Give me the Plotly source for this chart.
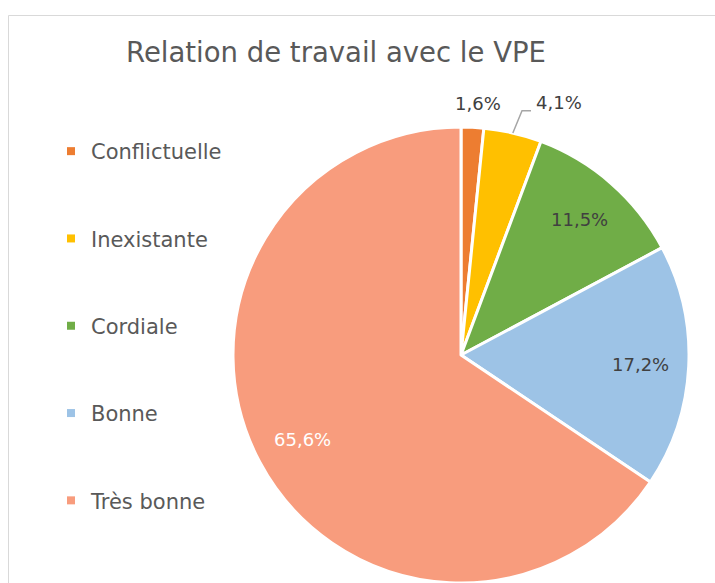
import math
import plotly.graph_objects as go

categories = ["Conflictuelle", "Inexistante", "Cordiale", "Bonne", "Très bonne"]
values = [1.6, 4.1, 11.5, 17.2, 65.6]
colors = ["#ED7D31", "#FFC000", "#70AD47", "#9DC3E6", "#F89C7D"]
label_colors = ["#404040", "#404040", "#404040", "#404040", "#FFFFFF"]
label_outside = [True, True, False, False, False]
label_leader = [False, True, False, False, False]
title_text = "Relation de travail avec le VPE"

W, H = 715, 583
FONT = "DejaVu Sans"
CX, CY, R = 461, 355, 228  # pie centre / radius in pixels

labels_txt = [f"{v:.1f}".replace(".", ",") + "%" for v in values]


def px(x):
    return x / W


def py(y):
    return 1 - y / H


fig = go.Figure()
fig.add_trace(go.Pie(
    labels=categories,
    values=values,
    sort=False,
    direction="clockwise",
    rotation=0,
    marker=dict(colors=colors, line=dict(color="white", width=3)),
    textinfo="none",
    showlegend=False,
    domain=dict(x=[px(CX - R), px(CX + R)], y=[py(CY + R), py(CY - R)]),
    hoverinfo="label+percent",
))

# legend entries via empty scatter traces, one group each for spacing
for c, col in zip(categories, colors):
    fig.add_trace(go.Scatter(
        x=[None], y=[None], mode="markers", name=c,
        marker=dict(symbol="square", size=8, color=col),
        legendgroup=c, showlegend=True,
    ))

# data labels placed along each slice's mid-angle
annotations = []
shapes = [dict(type="rect", xref="paper", yref="paper",
               x0=px(8.5), x1=1.2, y0=-0.2, y1=py(15.5),
               line=dict(color="#D9D9D9", width=1), layer="below")]
total = sum(values)
cum = 0.0
for v, t, lc, out, lead in zip(values, labels_txt, label_colors, label_outside, label_leader):
    mid = (cum + v / 2) / total * 2 * math.pi
    cum += v
    sx, sy = math.sin(mid), -math.cos(mid)
    if not out:
        rr = 0.79 * R
        annotations.append(dict(x=px(CX + rr * sx), y=py(CY + rr * sy), xref="paper", yref="paper",
                                text=t, showarrow=False, xanchor="center", yanchor="middle",
                                font=dict(size=18, color=lc, family=FONT)))
    elif not lead:
        rr = 1.105 * R
        annotations.append(dict(x=px(CX + rr * sx + 4), y=py(CY + rr * sy), xref="paper", yref="paper",
                                text=t, showarrow=False, xanchor="center", yanchor="middle",
                                font=dict(size=18, color=lc, family=FONT)))
    else:
        x0, y0 = CX + R * sx, CY + R * sy
        rr = 1.10 * R
        x1, y1 = CX + rr * sx + 4, CY + rr * sy
        x2, y2 = x1 + 9, y1
        shapes.append(dict(type="path", xref="paper", yref="paper",
                           path=f"M {px(x0)} {py(y0)} L {px(x1)} {py(y1)} L {px(x2)} {py(y2)}",
                           line=dict(color="#A6A6A6", width=1.5)))
        annotations.append(dict(x=px(x2 + 3), y=py(y2 - 8), xref="paper", yref="paper",
                                text=t, showarrow=False, xanchor="left", yanchor="middle",
                                font=dict(size=18, color=lc, family=FONT)))

fig.update_layout(
    width=W, height=H,
    margin=dict(l=0, r=0, t=0, b=0),
    paper_bgcolor="white", plot_bgcolor="white",
    font=dict(family=FONT, color="#595959"),
    title=dict(text=title_text, x=px(336), xanchor="center", y=py(52), yanchor="middle",
               font=dict(size=27.5, color="#595959", family=FONT)),
    xaxis=dict(visible=False), yaxis=dict(visible=False),
    legend=dict(x=px(51), xanchor="left", y=py(131), yanchor="top",
                font=dict(size=21, color="#595959", family=FONT),
                tracegroupgap=57, itemwidth=30, bgcolor="rgba(0,0,0,0)"),
    shapes=shapes,
    annotations=annotations,
)

fig.write_html("out.html", config={"displayModeBar": False},
               post_script="document.body.style.margin='0';document.body.style.overflow='hidden';")
